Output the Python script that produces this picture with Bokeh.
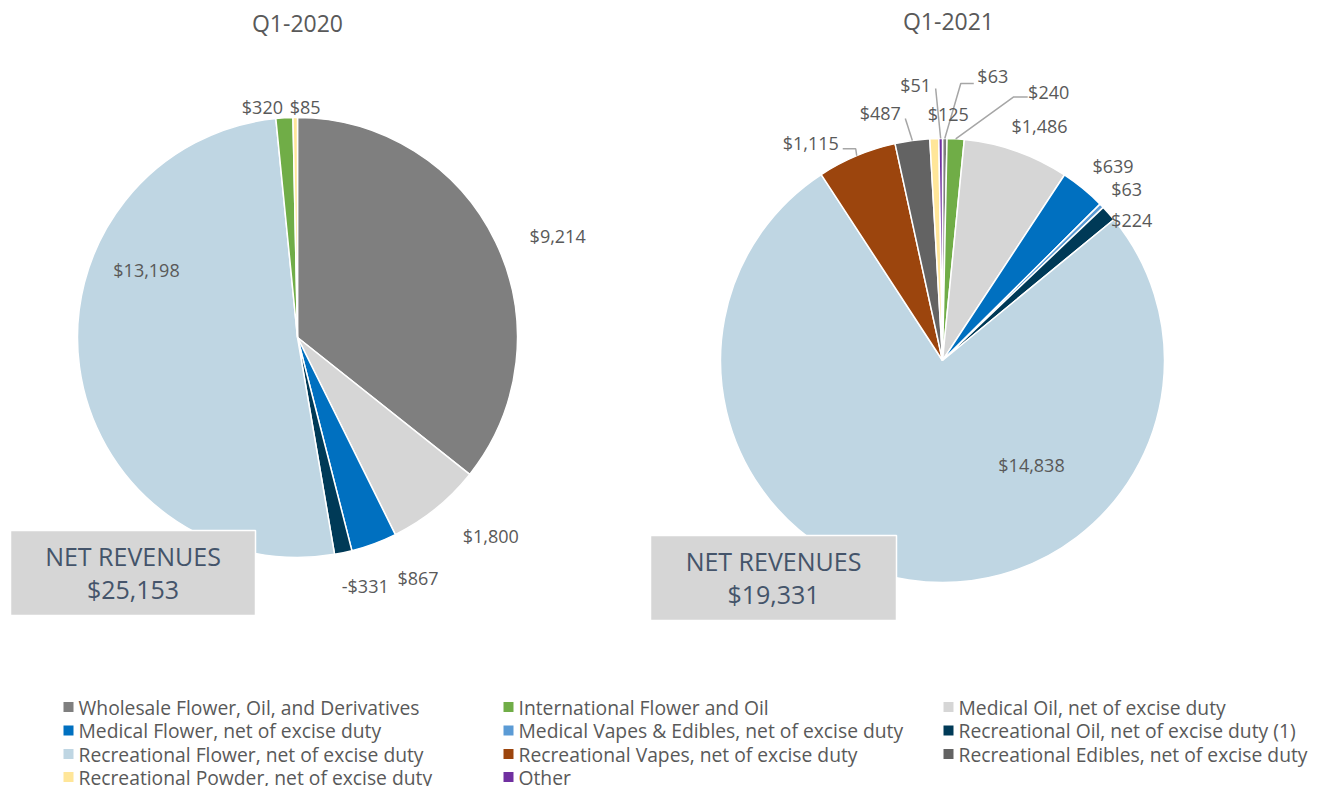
import math
from bokeh.plotting import figure
from bokeh.models import Range1d, ColumnDataSource
from bokeh.core.properties import value
from bokeh.embed import file_html
from bokeh.resources import INLINE

# ---------------- data ----------------
categories = [
    "Wholesale Flower, Oil, and Derivatives",
    "International Flower and Oil",
    "Medical Oil, net of excise duty",
    "Medical Flower, net of excise duty",
    "Medical Vapes & Edibles, net of excise duty",
    "Recreational Oil, net of excise duty (1)",
    "Recreational Flower, net of excise duty",
    "Recreational Vapes, net of excise duty",
    "Recreational Edibles, net of excise duty",
    "Recreational Powder, net of excise duty",
    "Other",
]
colors = ["#7f7f7f", "#70ad47", "#d6d6d6", "#0070c0", "#5b9bd5", "#003a57",
          "#bfd6e3", "#9c450d", "#636363", "#ffe699", "#7030a0"]

q1_2020_values = [9214, 320, 1800, 867, 0, -331, 13198, 0, 0, 85, 0]
q1_2021_values = [63, 240, 1486, 639, 63, 224, 14838, 1115, 487, 125, 51]

# slice order as drawn clockwise from 12 o'clock
q1_2020_order = [0, 2, 3, 5, 6, 1, 9]
q1_2021_order = [0, 1, 2, 3, 4, 5, 6, 7, 8, 9, 10]

titles = ["Q1-2020", "Q1-2021"]

# ---------------- layout ----------------
W, H = 1318, 786
def X(px): return px
def Y(py): return H - py

FONT = "Open Sans"
TXT = "#595959"
LEADER = "#a6a6a6"

pies = [
    dict(title=titles[0], values=q1_2020_values, order=q1_2020_order,
         c=(297, 337), r=220, title_pos=(297, 22),
         box=(10, 530, 255, 615),
         offs={0: (62, -6), 2: (55, 27), 3: (44, 34), 5: (22, 33), 1: (-22, -11), 9: (10, -11)},
         inside={6: (-151, -68)},
         leaders={}),
    dict(title=titles[1], values=q1_2021_values, order=q1_2021_order,
         c=(942, 360), r=222, title_pos=(948, 20),
         box=(650, 535, 896, 620),
         offs={0: (48, -63), 1: (93, -47), 2: (23, -25), 3: (30, -23), 4: (25, -17),
               5: (23, 7), 7: (-46, -13), 8: (-32, -28), 9: (14, -25), 10: (-25, -54)},
         inside={6: (89, 104)},
         leaders={0: [(0, 0), (16, -55), (29, -55)],
                  1: [(0, 0), (58, -42), (72, -42)],
                  7: [(0, 0), (-1, -7), (-14, -7)],
                  8: [(0, 0), (-7, -22)],
                  10: [(0, 0), (-5, -50)]}),
]

p = figure(width=W, height=H, x_range=Range1d(0, W), y_range=Range1d(0, H),
           output_backend="svg", toolbar_location=None,
           x_axis_type=None, y_axis_type=None, min_border=0)
p.outline_line_color = None
p.background_fill_color = "white"

def fmt(v):
    return ("-$" if v < 0 else "$") + f"{abs(v):,}"

for pie in pies:
    vals = pie["values"]
    order = pie["order"]
    absvals = [abs(vals[i]) for i in order]
    total = sum(absvals)
    cx, cy = pie["c"]
    r = pie["r"]
    starts, ends, cols, mids = [], [], [], []
    cum = 0.0
    for i, a in zip(order, absvals):
        t0 = cum / total * 360.0
        cum += a
        t1 = cum / total * 360.0
        starts.append(math.radians(90 - t1))
        ends.append(math.radians(90 - t0))
        cols.append(colors[i])
        mids.append((t0 + t1) / 2)
    src = ColumnDataSource(dict(start=starts, end=ends, color=cols))
    p.wedge(x=X(cx), y=Y(cy), radius=r, start_angle="start", end_angle="end",
            fill_color="color", line_color="white", line_width=1.5, source=src)

    # labels
    lx, ly, lt = [], [], []
    for i, m in zip(order, mids):
        ax = cx + r * math.sin(math.radians(m))
        ay = cy - r * math.cos(math.radians(m))
        if i in pie["inside"]:
            dx, dy = pie["inside"][i]
            tx, ty = cx + dx, cy + dy
        else:
            dx, dy = pie["offs"][i]
            tx, ty = ax + dx, ay + dy
        if i in pie["leaders"]:
            pts = pie["leaders"][i]
            p.line([X(ax + a) for a, b in pts], [Y(ay + b) for a, b in pts],
                   line_color=LEADER, line_width=1.5)
        lx.append(X(tx)); ly.append(Y(ty)); lt.append(fmt(vals[i]))
    p.text(x=lx, y=ly, text=lt, text_font=value(FONT), text_font_size="18px",
           text_color=TXT, text_align="center", text_baseline="middle")

    # title
    tx, ty = pie["title_pos"]
    p.text(x=[X(tx)], y=[Y(ty)], text=[pie["title"]], text_font=value(FONT),
           text_font_size="23px", text_color=TXT, text_align="center",
           text_baseline="middle")

    # net revenue box
    x0, y0, x1, y1 = pie["box"]
    p.quad(left=X(x0), right=X(x1), top=Y(y0), bottom=Y(y1),
           fill_color="#d6d6d6", line_color="white", line_width=1.5)
    bx = (x0 + x1) / 2
    p.text(x=[X(bx), X(bx)], y=[Y(y0 + 25.5), Y(y0 + 58.5)],
           text=["NET REVENUES", fmt(sum(vals))], text_font=value(FONT),
           text_font_size="25px", text_color="#44546a", text_align="center",
           text_baseline="middle")

# legend
col_sq = [68, 508, 948]
col_tx = [78, 518, 958]
rows = [706.5, 730, 753.5, 776.5]
sqx, sqy, sqc, tx_, ty_, tt = [], [], [], [], [], []
for k, name in enumerate(categories):
    rr, cc = divmod(k, 3)
    sqx.append(X(col_sq[cc])); sqy.append(Y(rows[rr])); sqc.append(colors[k])
    tx_.append(X(col_tx[cc])); ty_.append(Y(rows[rr])); tt.append(name)
p.rect(x=sqx, y=sqy, width=10, height=10, fill_color=sqc, line_color=None)
p.text(x=tx_, y=ty_, text=tt, text_font=value(FONT), text_font_size="19.3px",
       text_color=TXT, text_align="left", text_baseline="middle")

open("out.html", "w").write(file_html(p, INLINE))
